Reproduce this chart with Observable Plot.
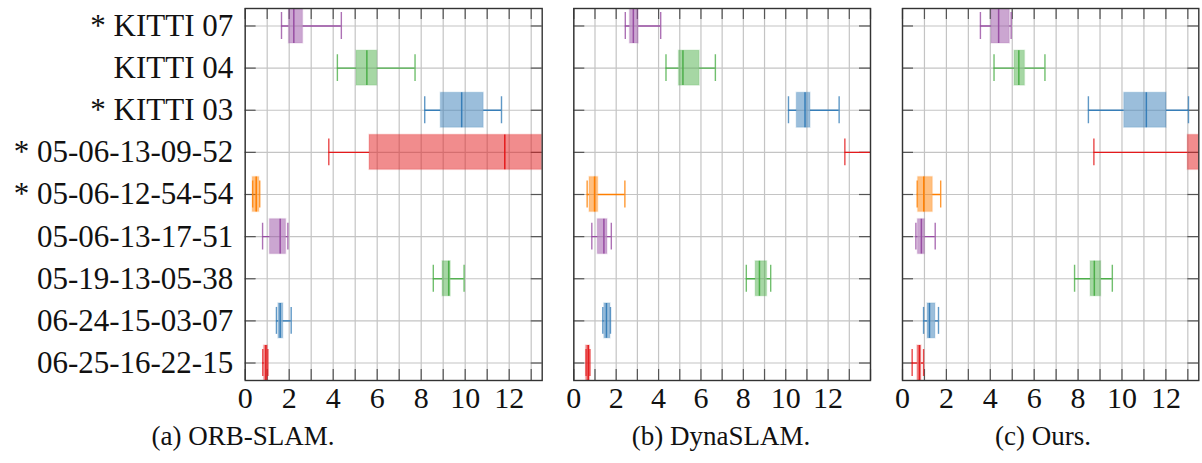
<!DOCTYPE html>
<html><head><meta charset="utf-8">
<script src="https://cdn.jsdelivr.net/npm/d3@7"></script>
<script src="https://cdn.jsdelivr.net/npm/@observablehq/plot@0.6"></script>
<style>
body{margin:0;background:#fff;font-family:"Liberation Serif",serif;}
#wrap{position:relative;width:1202px;height:463px;overflow:hidden;}
.panel{position:absolute;top:0;}
.cap{position:absolute;top:421px;font-size:27px;transform:translateX(-50%);white-space:nowrap;color:#111;}
</style></head><body><div id="wrap"></div>
<script>
const categories = ["* KITTI 07","KITTI 04","* KITTI 03","* 05-06-13-09-52","* 05-06-12-54-54","05-06-13-17-51","05-19-13-05-38","06-24-15-03-07","06-25-16-22-15"];
const rowColors = ["#984ea3","#4daf4a","#377eb8","#e41a1c","#ff7f00","#984ea3","#4daf4a","#377eb8","#e41a1c"];
const xTickLabels = [0,2,4,6,8,10,12];
const captions = ["(a) ORB-SLAM.","(b) DynaSLAM.","(c) Ours."];

// ORB-SLAM
const orbMin = [1.65,4.19,8.16,3.80,0.34,0.79,8.55,1.42,0.80];
const orbQ1  = [1.99,5.06,8.89,5.65,0.34,1.12,8.97,1.51,0.86];
const orbMed = [2.21,5.53,9.84,11.80,0.50,1.59,9.25,1.59,0.94];
const orbQ3  = [2.63,6.00,10.84,16.0,0.64,1.86,9.34,1.73,1.03];
const orbMax = [4.37,7.72,11.65,20.0,0.66,1.94,9.95,2.09,1.03];
// DynaSLAM
const dynMin = [2.43,4.35,10.13,12.79,0.63,0.85,8.14,1.37,0.58];
const dynQ1  = [2.65,4.96,10.52,16.0,0.74,1.13,8.58,1.44,0.58];
const dynMed = [2.81,5.15,10.91,18.0,0.98,1.42,8.76,1.54,0.68];
const dynQ3  = [3.06,5.94,11.17,20.0,1.15,1.59,9.12,1.73,0.76];
const dynMax = [4.10,6.68,12.52,24.0,2.41,1.77,9.29,1.73,0.76];
// Ours
const ourMin = [3.55,4.17,8.47,8.72,0.67,0.61,7.84,0.96,0.44];
const ourQ1  = [4.05,5.10,10.10,13.00,0.71,0.70,8.57,1.14,0.68];
const ourMed = [4.38,5.30,11.11,16.0,0.97,0.86,8.74,1.23,0.77];
const ourQ3  = [4.89,5.58,12.03,18.0,1.38,1.02,9.05,1.50,0.86];
const ourMax = [4.95,6.49,13.03,20.0,1.74,1.49,9.56,1.64,0.96];

const H = 420, MT = 8, MB = 40;
function panel(stats, xmax, width, ml, mr, showY) {
  const [mn, q1, md, q3, mx] = stats;
  const data = categories.map((c, i) => ({c, color: rowColors[i], min: mn[i], q1: q1[i], med: md[i], q3: q3[i], max: mx[i]}));
  const fh = H - MT - MB, fw = width - ml - mr;
  const ints = d3.range(0, Math.floor(xmax) + 1);
  const tick = "#555";
  const marks = [
    Plot.ruleX(ints, {x: d => d, stroke: "#c4c4c4", strokeWidth: 1.2}),
    Plot.ruleY(categories, {y: d => d, stroke: "#c4c4c4", strokeWidth: 1.2}),
    Plot.ruleX(ints, {x: d => d, insetTop: fh - 11, stroke: tick, strokeWidth: 1.2}),
    Plot.ruleX(ints, {x: d => d, insetBottom: fh - 11, stroke: tick, strokeWidth: 1.2}),
    Plot.ruleY(categories, {y: d => d, insetRight: fw - 11, stroke: tick, strokeWidth: 1.2}),
    Plot.ruleY(categories, {y: d => d, insetLeft: fw - 11, stroke: tick, strokeWidth: 1.2}),
    Plot.ruleY(data, {y: "c", x1: "min", x2: "q1", stroke: "color", strokeWidth: 1.4, clip: true}),
    Plot.ruleY(data, {y: "c", x1: "q3", x2: "max", stroke: "color", strokeWidth: 1.4, clip: true}),
    Plot.barX(data, {y: "c", x1: "q1", x2: "q3", fill: "color", fillOpacity: 0.5, stroke: "color", strokeOpacity: 0.15, strokeWidth: 1.5, clip: true}),
    Plot.tickX(data, {y: "c", x: "min", insetTop: 4, insetBottom: 4, stroke: "color", strokeWidth: 1.4, strokeOpacity: 0.8, clip: true}),
    Plot.tickX(data, {y: "c", x: "max", insetTop: 4, insetBottom: 4, stroke: "color", strokeWidth: 1.4, strokeOpacity: 0.8, clip: true}),
    Plot.tickX(data, {y: "c", x: "med", stroke: "color", strokeWidth: 1.5, clip: true}),
    Plot.frame({stroke: "#333", strokeWidth: 1.4}),
    Plot.axisX(xTickLabels, {anchor: "bottom", tickSize: 0, tickPadding: 6, fontSize: 30, fill: "#111", label: null})
  ];
  if (showY) marks.push(Plot.axisY({anchor: "left", tickSize: 0, tickPadding: 12, fontSize: 31, fill: "#111", label: null}));
  return Plot.plot({
    width, height: H, marginTop: MT, marginBottom: MB, marginLeft: ml, marginRight: mr,
    style: {fontFamily: "Liberation Serif", fontSize: "30px", background: "white", overflow: "visible"},
    x: {domain: [0, xmax]},
    y: {type: "band", domain: categories, paddingInner: 0.17, paddingOuter: 0, round: false, axis: showY ? undefined : null},
    color: {type: "identity"},
    marks
  });
}
const wrap = document.getElementById("wrap");
const specs = [
  {stats: [orbMin, orbQ1, orbMed, orbQ3, orbMax], xmax: 13.5, left: 0, width: 557, ml: 244.7, mr: 15.3, y: true},
  {stats: [dynMin, dynQ1, dynMed, dynQ3, dynMax], xmax: 14, left: 557, width: 329, ml: 16.3, mr: 16, y: false},
  {stats: [ourMin, ourQ1, ourMed, ourQ3, ourMax], xmax: 13.5, left: 886, width: 316, ml: 16, mr: 3.7, y: false}
];
specs.forEach(s => {
  const div = document.createElement("div");
  div.className = "panel";
  div.style.left = s.left + "px";
  div.appendChild(panel(s.stats, s.xmax, s.width, s.ml, s.mr, s.y));
  wrap.appendChild(div);
});
const capCenters = [243, 721, 1043];
captions.forEach((t, i) => {
  const d = document.createElement("div");
  d.className = "cap";
  d.style.left = capCenters[i] + "px";
  d.textContent = t;
  wrap.appendChild(d);
});
</script></body></html>
